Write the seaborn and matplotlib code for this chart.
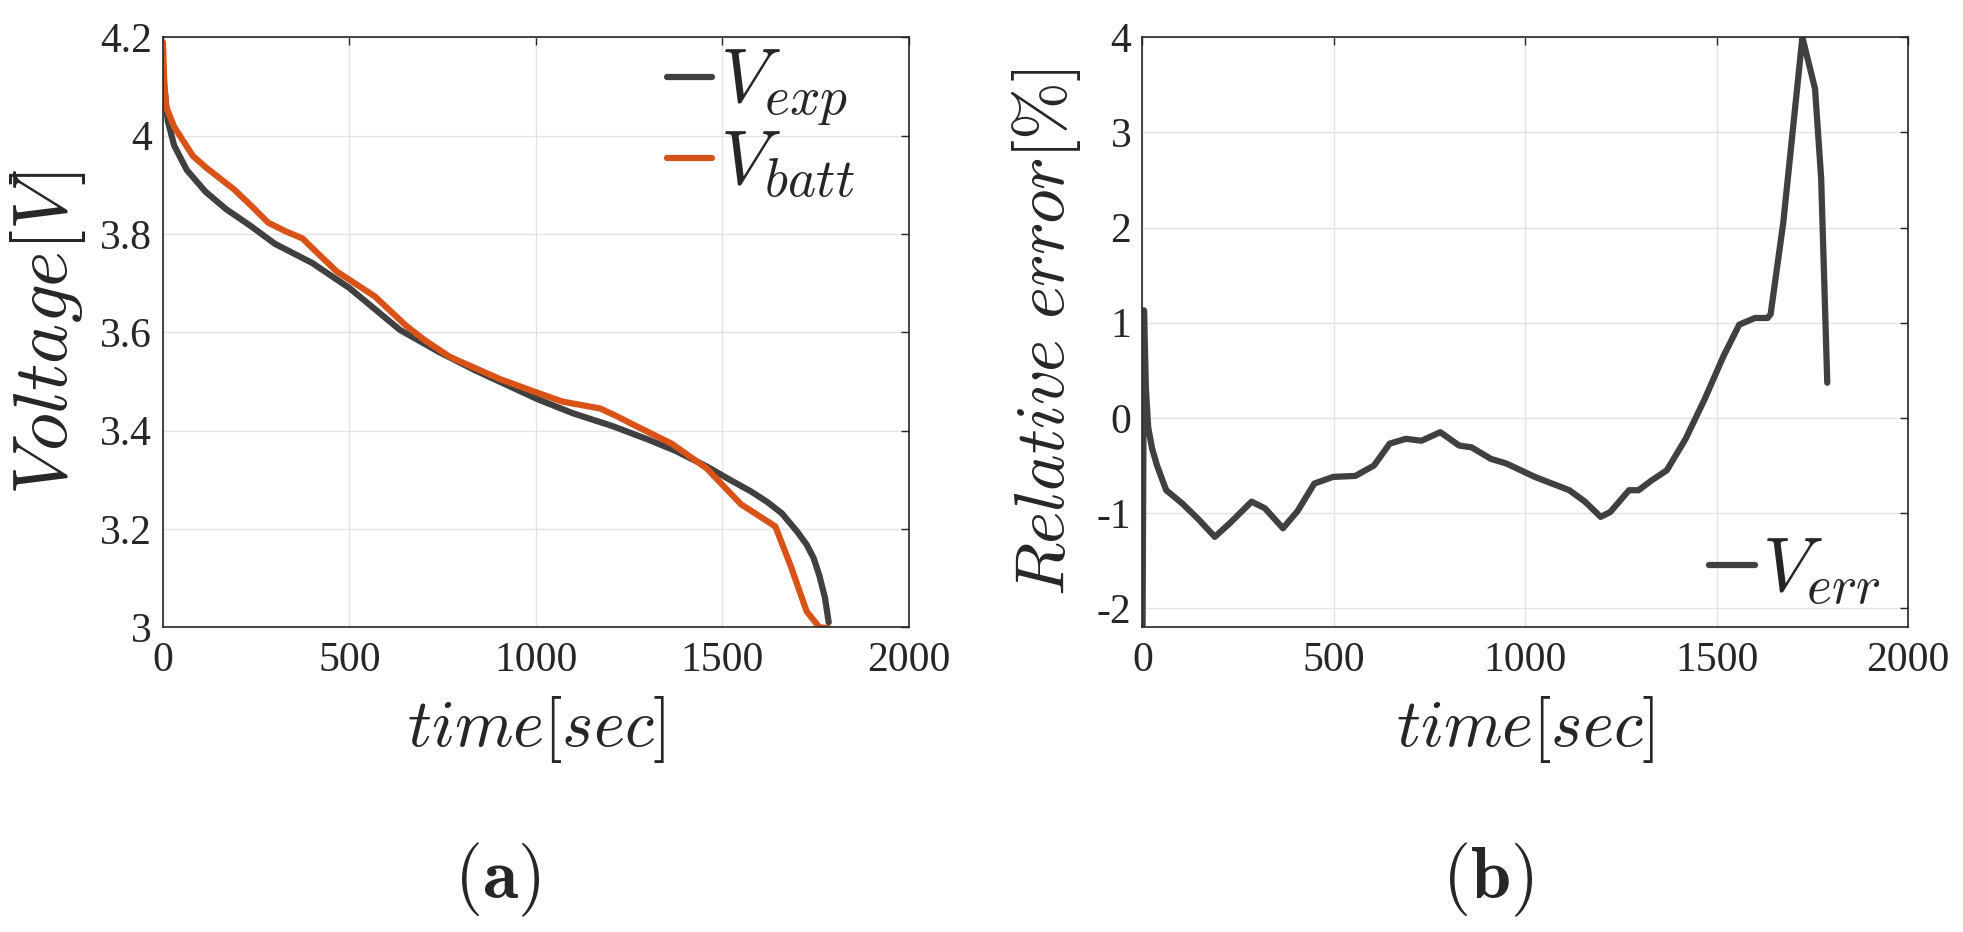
import numpy as np
import pandas as pd
import matplotlib
matplotlib.use("Agg")
import matplotlib.pyplot as plt
from matplotlib.ticker import FuncFormatter
import seaborn as sns

# (a) measured vs model terminal voltage
T_EXP = [0, 5, 13, 30, 64, 114, 170, 232, 300, 400, 500, 635, 740, 836, 1004,
         1100, 1206, 1300, 1374, 1458, 1520, 1575, 1620, 1659, 1700, 1726,
         1745, 1760, 1775, 1785]
V_EXP = [4.12, 4.09, 4.03, 3.98, 3.93, 3.886, 3.85, 3.818, 3.78, 3.741, 3.69,
         3.605, 3.56, 3.523, 3.464, 3.435, 3.409, 3.382, 3.359, 3.327, 3.30,
         3.277, 3.255, 3.232, 3.195, 3.168, 3.14, 3.105, 3.06, 3.01]

T_BATT = [0, 3, 8, 30, 80, 114, 190, 240, 282, 330, 374, 420, 467, 568, 651,
          700, 769, 903, 1000, 1071, 1172, 1215, 1256, 1365, 1458, 1550, 1642,
          1684, 1726, 1760, 1785]
V_BATT = [4.19, 4.12, 4.06, 4.018, 3.959, 3.936, 3.891, 3.855, 3.823, 3.805,
          3.791, 3.757, 3.723, 3.673, 3.614, 3.585, 3.55, 3.505, 3.478, 3.459,
          3.445, 3.43, 3.414, 3.373, 3.323, 3.25, 3.205, 3.123, 3.032, 3.0, 2.998]

# (b) relative error in percent
T_ERR = [0, 4, 9, 15, 25, 38, 62, 104, 145, 189, 230, 285, 320, 367, 405, 449,
         498, 556, 605, 646, 688, 729, 778, 827, 860, 910, 951, 1025, 1115,
         1156, 1197, 1222, 1271, 1296, 1329, 1370, 1419, 1469, 1518, 1559,
         1600, 1633, 1641, 1674, 1724, 1757, 1773, 1789]
E_ERR = [-2.4, 1.13, 0.30, -0.10, -0.32, -0.50, -0.76, -0.90, -1.06, -1.25,
         -1.10, -0.88, -0.95, -1.16, -0.98, -0.69, -0.62, -0.61, -0.50, -0.27,
         -0.22, -0.24, -0.15, -0.29, -0.31, -0.43, -0.48, -0.62, -0.76, -0.88,
         -1.04, -0.99, -0.76, -0.76, -0.66, -0.55, -0.22, 0.20, 0.65, 0.98,
         1.05, 1.05, 1.09, 2.05, 4.0, 3.46, 2.52, 0.37]

X_TICKS = [0, 500, 1000, 1500, 2000]
Y1_TICKS = [3.0, 3.2, 3.4, 3.6, 3.8, 4.0, 4.2]
Y2_TICKS = [-2, -1, 0, 1, 2, 3, 4]

DARK = "#404040"
ORANGE = "#D95319"

sns.set_style("whitegrid")
plt.rcParams["font.family"] = ["Liberation Serif", "DejaVu Serif"]
plt.rcParams["mathtext.fontset"] = "cm"
plt.rcParams["axes.unicode_minus"] = False

fig = plt.figure(figsize=(19.63, 9.32), dpi=100)
ax1 = fig.add_axes([0.083, 0.327, 0.380, 0.633])
ax2 = fig.add_axes([0.582, 0.327, 0.390, 0.633])

sns.lineplot(x=T_EXP, y=V_EXP, ax=ax1, color=DARK, lw=4.5, sort=False,
             label=r"$V_{exp}$")
sns.lineplot(x=T_BATT, y=V_BATT, ax=ax1, color=ORANGE, lw=4.5, sort=False,
             label=r"$V_{batt}$")
sns.lineplot(x=T_ERR, y=E_ERR, ax=ax2, color=DARK, lw=4.5, sort=False,
             label=r"$V_{err}$")

fmt = FuncFormatter(lambda v, _: f"{v:g}")
for ax, yt, ylim in [(ax1, Y1_TICKS, (3.0, 4.2)), (ax2, Y2_TICKS, (-2.2, 4))]:
    ax.set_xlim(0, 2000)
    ax.set_ylim(*ylim)
    ax.set_xticks(X_TICKS)
    ax.set_yticks(yt)
    ax.yaxis.set_major_formatter(fmt)
    ax.grid(True, color="#e3e3e3", lw=1.0)
    ax.tick_params(direction="in", top=True, right=True, length=6, width=1,
                   labelsize=30, colors="#262626")
    ax.tick_params(axis="x", pad=10)
    ax.tick_params(axis="y", pad=8)
    for s in ax.spines.values():
        s.set_color("#262626")
        s.set_linewidth(1.2)
    ax.set_xlabel(r"$time[sec]$", fontsize=48, color="#262626")
    ax.xaxis.set_label_coords(0.5, -0.113)

ax1.set_ylabel(r"$Voltage[V]$", fontsize=55, color="#262626")
ax1.yaxis.set_label_coords(-0.1, 0.5)
ax2.set_ylabel(r"$Relative\ error[\%]$", fontsize=50, color="#262626")
ax2.yaxis.set_label_coords(-0.078, 0.5)

ax1.legend(loc="upper left", bbox_to_anchor=(0.665, 0.995), frameon=False,
           fontsize=55, handlelength=0.6, handletextpad=0.1,
           labelspacing=0.0, borderpad=0.1, borderaxespad=0)
ax2.legend(loc="lower left", bbox_to_anchor=(0.73, 0.02), frameon=False,
           fontsize=55, handlelength=0.6, handletextpad=0.1, borderpad=0.1,
           borderaxespad=0)

fig.text(0.253, 0.056, r"$(\mathbf{a})$", fontsize=52, ha="center", va="center")
fig.text(0.758, 0.056, r"$(\mathbf{b})$", fontsize=52, ha="center", va="center")

fig.savefig("out.png", dpi=100)
